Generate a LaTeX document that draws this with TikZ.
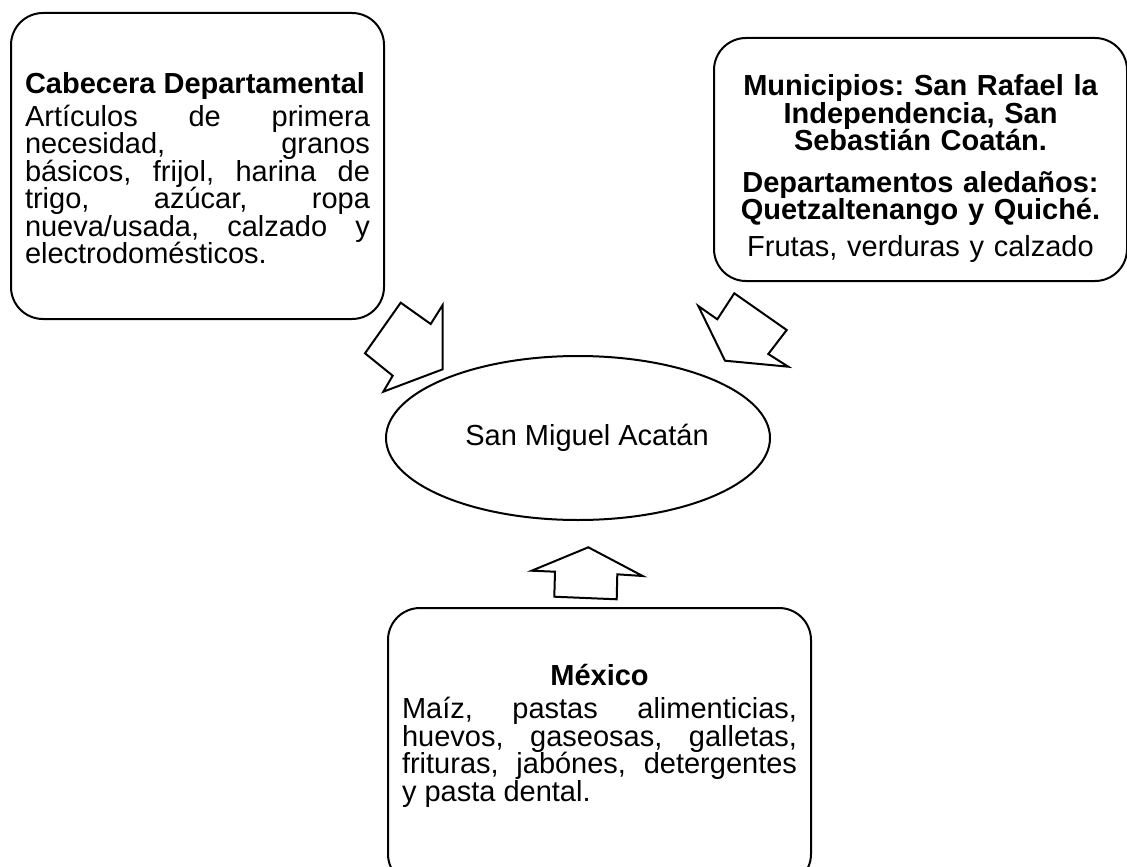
\documentclass[tikz,border=0pt]{standalone}
\usepackage{fontspec}
\setmainfont{Liberation Sans}
\usetikzlibrary{positioning, shapes.geometric}
\tolerance=10000
\hbadness=10000
\frenchspacing

\tikzset{
  infobox/.style={draw, line width=2pt, rounded corners=32pt, inner xsep=14pt, inner ysep=0pt, font=\fontsize{29}{27.5}\selectfont},
  blockarrow/.style={draw, line width=2pt, line join=miter},
}

\begin{document}
\begin{tikzpicture}[x=1pt, y=-1pt]
  \useasboundingbox (0,0) rectangle (1127,867);
  \node[draw, ellipse, line width=2pt, minimum width=384pt, minimum height=164pt, font=\fontsize{29}{27.5}\selectfont] (smx) at (578,438) {\hspace*{18pt}San Miguel Acatán};
  \node[infobox, anchor=north west, minimum width=373pt, minimum height=306pt, text width=345pt, align=justify] (cab) at (10,12)
    {\rule{0pt}{26pt}{\bfseries Cabecera Departamental}\par\vspace{5pt}
     Artículos de primera\linebreak necesidad, granos\linebreak básicos, frijol, harina de\linebreak trigo, azúcar, ropa\linebreak nueva/usada, calzado y\linebreak electrodomésticos.};
  \node[infobox, anchor=north west, minimum width=413pt, minimum height=243pt, text width=385pt, align=center] (mun) at (713,37)
    {{\bfseries\rule{0pt}{40pt}Municipios: San Rafael la\\ Independencia, San\\ Sebastián Coatán.\par}\vspace{14pt}
     {\bfseries Departamentos aledaños:\\ Quetzaltenango y Quiché.\par}\vspace{9.5pt}
     Frutas, verduras y calzado};
  \node[infobox, anchor=north west, minimum width=423pt, minimum height=278pt, text width=395pt, align=justify] (mex) at (387,607)
    {{\centering\bfseries México\par}\vspace{5.5pt}
     Maíz, pastas alimenticias,\linebreak huevos, gaseosas, galletas,\linebreak frituras, jabónes, detergentes\linebreak y pasta dental.\rule[-28pt]{0pt}{1pt}};

  % flechas
  \draw[blockarrow] (383.3,391.7) -- (392.7,375.7) -- (365,353.3) -- (400.7,302.7) -- (430.7,324) -- (442.7,305) -- (442.7,369.3) -- cycle;
  \draw[blockarrow] (698.3,306) -- (717.3,319.3) -- (734.3,293.3) -- (786.7,330) -- (768.3,354) -- (788.3,366.7) -- (725,360.7) -- cycle;
  \draw[blockarrow] (588.3,547.3) -- (642.7,576) -- (617.3,574.3) -- (616.7,599.3) -- (554.3,596.7) -- (555,571.7) -- (531.7,570.7) -- cycle;
\end{tikzpicture}
\end{document}
